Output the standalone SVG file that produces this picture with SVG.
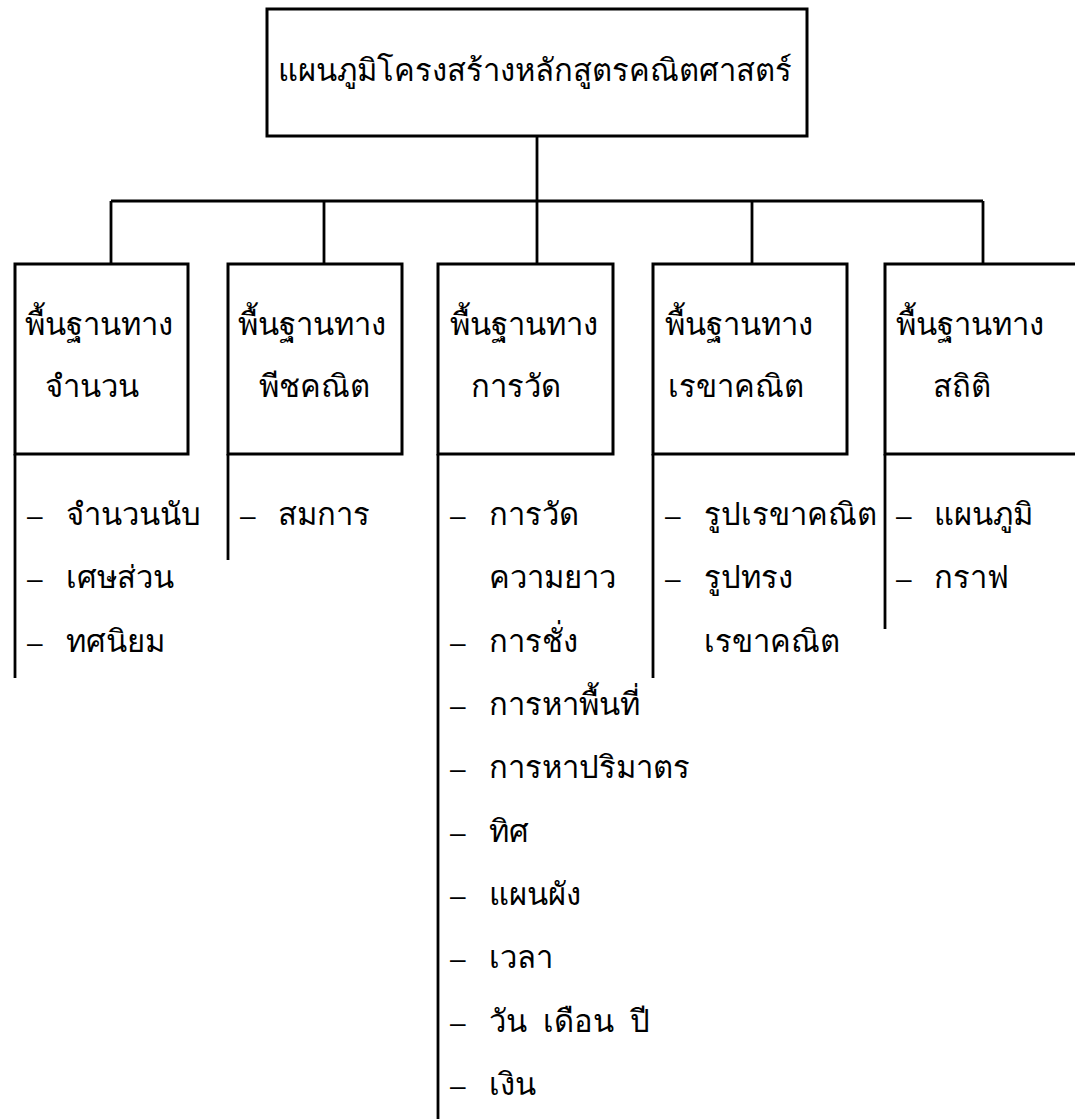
<svg xmlns="http://www.w3.org/2000/svg" width="1075" height="1119" viewBox="0 0 1075 1119">
  <style>
    .box { fill: #fff; stroke: #000; stroke-width: 3; }
    .ln { fill: none; stroke: #000; stroke-width: 2.8; }
    .t { font-family: "Noto Sans", "DejaVu Sans", sans-serif; font-size: 31px; fill: #000; }
    .d { font-family: "Liberation Sans", sans-serif; font-size: 28px; fill: #000; }
  </style>
  <rect width="1075" height="1119" fill="#fff"/>

  <!-- connectors -->
  <g id="connectors" class="ln">
    <path d="M537 136 V201"/>
    <path d="M111 201 H983"/>
    <path d="M111 201 V264 M324 201 V264 M537 201 V264 M752 201 V264 M983 201 V264"/>
  </g>

  <!-- root -->
  <g id="root">
    <rect class="box" x="267" y="9" width="540" height="127"/>
    <text class="t" x="278" y="81">แผนภูมิโครงสร้างหลักสูตรคณิตศาสตร์</text>
  </g>

  <!-- number -->
  <g id="number">
    <rect class="box" x="15" y="264" width="173" height="190"/>
    <path class="ln" d="M15 454 V678"/>
    <text class="t" x="25" y="335">พื้นฐานทาง</text>
    <text class="t" x="45" y="397">จำนวน</text>
    <text class="d" x="27" y="525">–</text><text class="t" x="66" y="525">จำนวนนับ</text>
    <text class="d" x="27" y="588">–</text><text class="t" x="66" y="588">เศษส่วน</text>
    <text class="d" x="27" y="652">–</text><text class="t" x="66" y="652">ทศนิยม</text>
  </g>

  <!-- algebra -->
  <g id="algebra">
    <rect class="box" x="228" y="264" width="174" height="190"/>
    <path class="ln" d="M228 454 V560"/>
    <text class="t" x="238" y="335">พื้นฐานทาง</text>
    <text class="t" x="259" y="397">พีชคณิต</text>
    <text class="d" x="240" y="525">–</text><text class="t" x="278" y="525">สมการ</text>
  </g>

  <!-- measurement -->
  <g id="measurement">
    <rect class="box" x="438" y="264" width="175" height="190"/>
    <path class="ln" d="M438 454 V1119"/>
    <text class="t" x="450" y="335">พื้นฐานทาง</text>
    <text class="t" x="471" y="397">การวัด</text>
    <text class="d" x="450" y="525">–</text><text class="t" x="489" y="525">การวัด</text>
    <text class="t" x="489" y="588">ความยาว</text>
    <text class="d" x="450" y="652">–</text><text class="t" x="489" y="652">การชั่ง</text>
    <text class="d" x="450" y="715">–</text><text class="t" x="489" y="715">การหาพื้นที่</text>
    <text class="d" x="450" y="778">–</text><text class="t" x="489" y="778">การหาปริมาตร</text>
    <text class="d" x="450" y="842">–</text><text class="t" x="489" y="842">ทิศ</text>
    <text class="d" x="450" y="905">–</text><text class="t" x="489" y="905">แผนผัง</text>
    <text class="d" x="450" y="968">–</text><text class="t" x="489" y="968">เวลา</text>
    <text class="d" x="450" y="1032">–</text><text class="t" x="489" y="1032">วัน&#160; เดือน&#160; ปี</text>
    <text class="d" x="450" y="1095">–</text><text class="t" x="489" y="1095">เงิน</text>
  </g>

  <!-- geometry -->
  <g id="geometry">
    <rect class="box" x="653" y="264" width="194" height="190"/>
    <path class="ln" d="M653 454 V678"/>
    <text class="t" x="665" y="335">พื้นฐานทาง</text>
    <text class="t" x="668" y="397">เรขาคณิต</text>
    <text class="d" x="665" y="525">–</text><text class="t" x="704" y="525">รูปเรขาคณิต</text>
    <text class="d" x="665" y="588">–</text><text class="t" x="704" y="588">รูปทรง</text>
    <text class="t" x="704" y="652">เรขาคณิต</text>
  </g>

  <!-- statistics -->
  <g id="statistics">
    <rect class="box" x="885" y="264" width="200" height="190"/>
    <path class="ln" d="M885 454 V629"/>
    <text class="t" x="896" y="335">พื้นฐานทาง</text>
    <text class="t" x="933" y="397">สถิติ</text>
    <text class="d" x="896" y="525">–</text><text class="t" x="934" y="525">แผนภูมิ</text>
    <text class="d" x="896" y="588">–</text><text class="t" x="934" y="588">กราฟ</text>
  </g>
</svg>
